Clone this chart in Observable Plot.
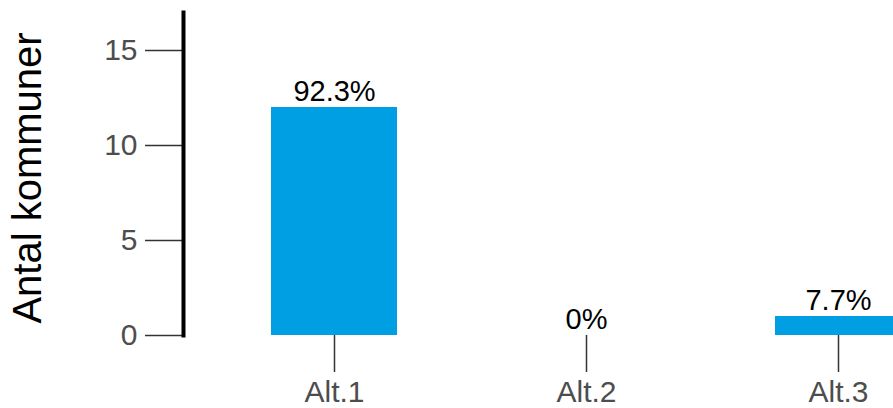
<!DOCTYPE html>
<html>
<head>
<meta charset="utf-8">
<script src="https://cdn.jsdelivr.net/npm/d3@7"></script>
<script src="https://cdn.jsdelivr.net/npm/@observablehq/plot@0.6"></script>
<style>
html, body { margin: 0; padding: 0; overflow: hidden; background: white; }
svg { font-family: "Liberation Sans", Arial, sans-serif; }
</style>
</head>
<body>
<div id="chart"></div>
<script>
const categories = ["Alt.1", "Alt.2", "Alt.3"];
const counts = [12, 0, 1];
const percentLabels = ["92.3%", "0%", "7.7%"];
const yTicks = [0, 5, 10, 15];
const yTitle = "Antal kommuner";

const data = categories.map((c, i) => ({cat: c, n: counts[i], pct: percentLabels[i]}));

const chart = Plot.plot({
  width: 893,
  height: 408,
  marginLeft: 183,
  marginRight: 0,
  marginTop: 12,
  marginBottom: 73,
  style: {fontFamily: "Liberation Sans, Arial, sans-serif", background: "white"},
  x: {domain: categories, range: [145, 1027], padding: 0.5},
  y: {domain: [0, 17]},
  marks: [
    Plot.barY(data, {x: "cat", y: "n", fill: "#009FE3"}),
    Plot.text(data, {x: "cat", y: "n", text: "pct", lineAnchor: "bottom", dy: -7, fontSize: 29, fill: "black"}),
    Plot.axisY({ticks: yTicks, tickSize: 38, tickPadding: 8, fontSize: 30, fill: "#4d4d4d", stroke: "#333", strokeWidth: 1.5, label: null}),
    Plot.axisX({tickSize: 37, tickPadding: 8, fontSize: 30, fill: "#4d4d4d", stroke: "#333", strokeWidth: 1.5, label: null}),
    Plot.frame({anchor: "left", stroke: "black", strokeWidth: 4}),
    Plot.text([yTitle], {frameAnchor: "left", textAnchor: "middle", rotate: -90, dx: -155, dy: 4, fontSize: 40, fill: "black"})
  ]
});
document.getElementById("chart").appendChild(chart);
</script>
</body>
</html>
